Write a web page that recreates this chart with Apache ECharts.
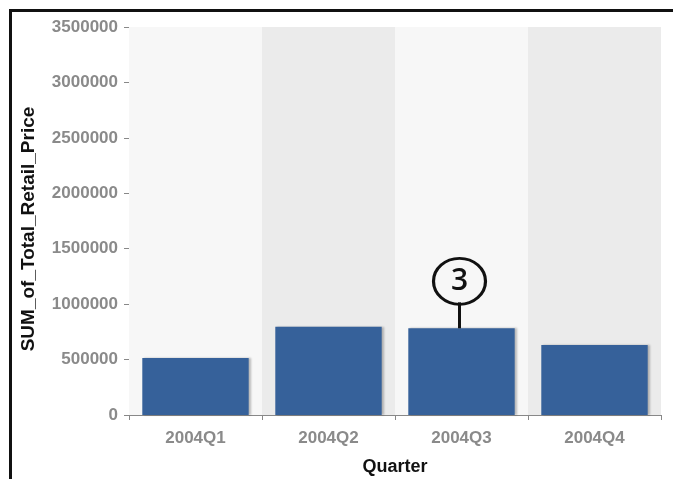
<!DOCTYPE html>
<html>
<head>
<meta charset="utf-8">
<script src="https://cdn.jsdelivr.net/npm/echarts@6/dist/echarts.min.js"></script>
<style>
html,body{margin:0;padding:0;background:#fff;}
#frame{position:absolute;left:9px;top:9px;width:680px;height:480px;border-left:3px solid #111;border-top:3px solid #111;}
#chart{position:absolute;left:0;top:0;width:673px;height:479px;}
</style>
</head>
<body>
<div id="frame"></div>
<div id="chart"></div>
<script>
const categories = ['2004Q1', '2004Q2', '2004Q3', '2004Q4'];
const values = [514000, 797000, 782000, 631000];
const yTicks = { min: 0, max: 3500000, interval: 500000 };
const calloutCategory = '2004Q3';
const calloutText = '3';

const chart = echarts.init(document.getElementById('chart'), null, { renderer: 'canvas' });
const calloutValue = values[categories.indexOf(calloutCategory)];
chart.setOption({
  animation: false,
  backgroundColor: 'transparent',
  grid: { left: 129, right: 12, top: 27, bottom: 64, containLabel: false, outerBoundsMode: 'none' },
  xAxis: {
    type: 'category',
    data: categories,
    boundaryGap: true,
    name: 'Quarter',
    nameLocation: 'middle',
    nameGap: 43,
    nameTextStyle: { fontFamily: 'Liberation Sans, Arial', fontWeight: 'bold', fontSize: 18, color: '#111' },
    axisLine: { show: true, lineStyle: { color: '#888', width: 1 } },
    axisTick: { show: true, length: 5, lineStyle: { color: '#888' } },
    axisLabel: { margin: 15, fontFamily: 'Liberation Sans, Arial', fontWeight: 'bold', fontSize: 17, color: '#8a8a8a' },
    splitArea: { show: true, areaStyle: { color: ['#f7f7f7', '#ebebeb'] } },
    splitLine: { show: false }
  },
  yAxis: {
    type: 'value',
    min: yTicks.min, max: yTicks.max, interval: yTicks.interval,
    name: 'SUM_of_Total_Retail_Price',
    nameLocation: 'middle',
    nameGap: 91,
    nameTextStyle: { fontFamily: 'Liberation Sans, Arial', fontWeight: 'bold', fontSize: 19, color: '#111', padding: [0, 16, 0, 0] },
    axisLine: { show: false },
    axisTick: { show: true, length: 5, lineStyle: { color: '#888' } },
    axisLabel: { margin: 11, fontFamily: 'Liberation Sans, Arial', fontWeight: 'bold', fontSize: 17, color: '#8a8a8a', formatter: v => String(v) },
    splitLine: { show: true, lineStyle: { color: '#d6d6d6', width: 1 } }
  },
  series: [{
    type: 'bar',
    data: values,
    barWidth: '80%',
    itemStyle: { color: '#36619a', shadowColor: 'rgba(0,0,0,0.25)', shadowOffsetX: 2, shadowOffsetY: 0, shadowBlur: 2 },
    markPoint: {
      silent: true,
      data: [
        {
          coord: [calloutCategory, calloutValue],
          symbol: 'rect',
          symbolSize: [3, 26],
          symbolOffset: [-2, -13],
          itemStyle: { color: '#111' },
          label: { show: false }
        },
        {
          coord: [calloutCategory, calloutValue],
          symbol: 'circle',
          symbolSize: [52, 46],
          symbolOffset: [-2, -47],
          itemStyle: { color: 'rgba(255,255,255,0)', borderColor: '#111', borderWidth: 3 },
          label: { show: true, formatter: calloutText, position: 'inside', fontFamily: 'Open Sans, Lato, sans-serif', fontSize: 30, fontWeight: 600, color: '#111' }
        }
      ]
    }
  }]
});
</script>
</body>
</html>
